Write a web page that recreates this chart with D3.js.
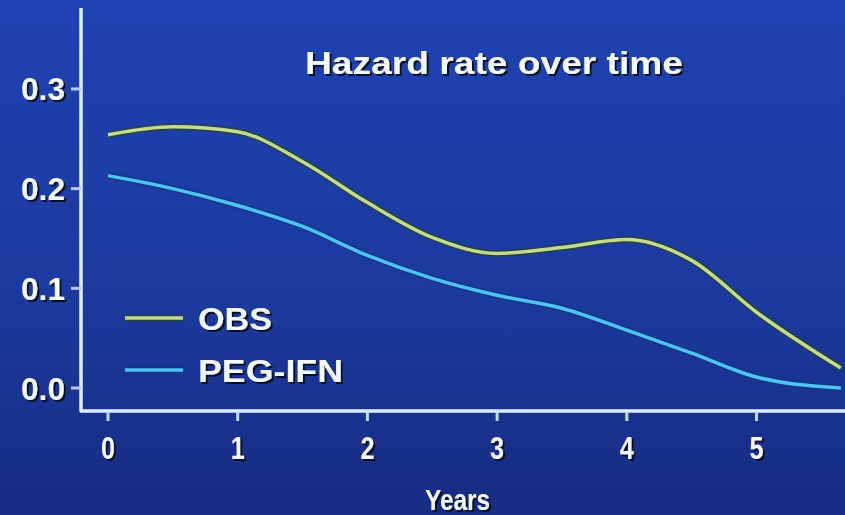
<!DOCTYPE html>
<html>
<head>
<meta charset="utf-8">
<script src="https://cdn.jsdelivr.net/npm/d3@7"></script>
<style>
  html, body { margin: 0; padding: 0; background: #1a3594; }
  svg { display: block; }
  text { font-family: "Liberation Sans", Arial, sans-serif; font-weight: bold; fill: #f4f8ff; }
</style>
</head>
<body>
<div id="chart"></div>
<script>
// values
const years = [0, 0.5, 1, 1.5, 2, 2.5, 3, 3.5, 4, 4.5, 5, 5.65];
const obs = [0.254, 0.262, 0.257, 0.227, 0.186, 0.151, 0.135, 0.141, 0.149, 0.128, 0.076, 0.020];
const peg = [0.213, 0.200, 0.183, 0.162, 0.133, 0.110, 0.093, 0.080, 0.058, 0.035, 0.011, 0.000];
const x_ticks = [0, 1, 2, 3, 4, 5];
const y_ticks = [0, 0.1, 0.2, 0.3];
const series_names = ["OBS", "PEG-IFN"];
const title = "Hazard rate over time";
const x_title = "Years";

const width = 845;
const height = 515;
const margins = { left: 81, right: 0, top: 8, bottom: 104 };

const svg = d3
  .select("#chart")
  .append("svg")
  .attr("width", width)
  .attr("height", height);

const defs = svg.append("defs");
const grad = defs
  .append("linearGradient")
  .attr("id", "bg_grad")
  .attr("x1", 0)
  .attr("y1", 0)
  .attr("x2", 0)
  .attr("y2", 1);
grad.append("stop").attr("offset", "0%").attr("stop-color", "#1f42b2");
grad.append("stop").attr("offset", "55%").attr("stop-color", "#1c3a9f");
grad.append("stop").attr("offset", "100%").attr("stop-color", "#172c82");

const shadow = defs.append("filter").attr("id", "txt_shadow");
shadow
  .append("feDropShadow")
  .attr("dx", 2)
  .attr("dy", 2)
  .attr("stdDeviation", 0.6)
  .attr("flood-color", "#000820")
  .attr("flood-opacity", 0.95);

svg
  .append("rect")
  .attr("width", width)
  .attr("height", height)
  .attr("fill", "url(#bg_grad)");

const X = d3.scaleLinear().domain([0, 1]).range([108, 237.7]);
const Y = d3.scaleLinear().domain([0, 0.1]).range([388, 288.3]);
const axis_y = 411;
const axis_color = "#dcefff";

// axes
svg
  .append("line")
  .attr("x1", margins.left)
  .attr("x2", margins.left)
  .attr("y1", margins.top)
  .attr("y2", axis_y + 1)
  .attr("stroke", axis_color)
  .attr("stroke-width", 3.5);

svg
  .append("line")
  .attr("x1", margins.left - 1)
  .attr("x2", width)
  .attr("y1", axis_y)
  .attr("y2", axis_y)
  .attr("stroke", axis_color)
  .attr("stroke-width", 3.5);

const y_axis_g = svg.append("g");
y_ticks.forEach((v) => {
  y_axis_g
    .append("line")
    .attr("x1", margins.left - 10)
    .attr("x2", margins.left)
    .attr("y1", Y(v))
    .attr("y2", Y(v))
    .attr("stroke", "#b8c8ff")
    .attr("stroke-width", 3);
  y_axis_g
    .append("text")
    .attr("x", 21)
    .attr("y", Y(v))
    .attr("dy", "0.36em")
    .attr("font-size", 32)
    .attr("textLength", 44)
    .attr("lengthAdjust", "spacingAndGlyphs")
    .attr("filter", "url(#txt_shadow)")
    .text(d3.format(".1f")(v));
});

const x_axis_g = svg.append("g");
x_ticks.forEach((v) => {
  x_axis_g
    .append("line")
    .attr("x1", X(v))
    .attr("x2", X(v))
    .attr("y1", axis_y)
    .attr("y2", axis_y + 10)
    .attr("stroke", "#c8d8ff")
    .attr("stroke-width", 3);
  x_axis_g
    .append("text")
    .attr("x", X(v) - 7)
    .attr("y", 459)
    .attr("font-size", 32)
    .attr("textLength", 14)
    .attr("lengthAdjust", "spacingAndGlyphs")
    .attr("filter", "url(#txt_shadow)")
    .text(v);
});

svg
  .append("text")
  .attr("x", 425)
  .attr("y", 510)
  .attr("font-size", 30)
  .attr("textLength", 65)
  .attr("lengthAdjust", "spacingAndGlyphs")
  .attr("filter", "url(#txt_shadow)")
  .text(x_title);

svg
  .append("text")
  .attr("x", 305)
  .attr("y", 74)
  .attr("font-size", 32)
  .attr("textLength", 378)
  .attr("lengthAdjust", "spacingAndGlyphs")
  .attr("filter", "url(#txt_shadow)")
  .text(title);

// curves
const series = [
  { name: series_names[0], values: obs, color: "#c4da92", edge: "#27461c", label_w: 74 },
  { name: series_names[1], values: peg, color: "#4fc3f5", edge: "#0b3a80", label_w: 145 },
];

const line = d3
  .line()
  .curve(d3.curveMonotoneX)
  .x((d, i) => X(years[i]))
  .y((d) => Y(d));

series.forEach((s) => {
  svg
    .append("path")
    .attr("d", line(s.values))
    .attr("fill", "none")
    .attr("stroke", s.edge)
    .attr("stroke-opacity", 0.75)
    .attr("stroke-width", 6.5);
  svg
    .append("path")
    .attr("d", line(s.values))
    .attr("fill", "none")
    .attr("stroke", s.color)
    .attr("stroke-width", 3.5);
});

// legend
const legend = svg
  .append("g")
  .selectAll("g")
  .data(series)
  .join("g")
  .attr("transform", (d, i) => `translate(125, ${318 + i * 52})`);

legend
  .append("line")
  .attr("x1", 0)
  .attr("x2", 58)
  .attr("stroke", (d) => d.edge)
  .attr("stroke-opacity", 0.75)
  .attr("stroke-width", 6.5);
legend
  .append("line")
  .attr("x1", 0)
  .attr("x2", 58)
  .attr("stroke", (d) => d.color)
  .attr("stroke-width", 3.5);
legend
  .append("text")
  .attr("x", 73)
  .attr("y", 0)
  .attr("dy", "0.36em")
  .attr("font-size", 32)
  .attr("textLength", (d) => d.label_w)
  .attr("lengthAdjust", "spacingAndGlyphs")
  .attr("filter", "url(#txt_shadow)")
  .text((d) => d.name);
</script>
</body>
</html>
